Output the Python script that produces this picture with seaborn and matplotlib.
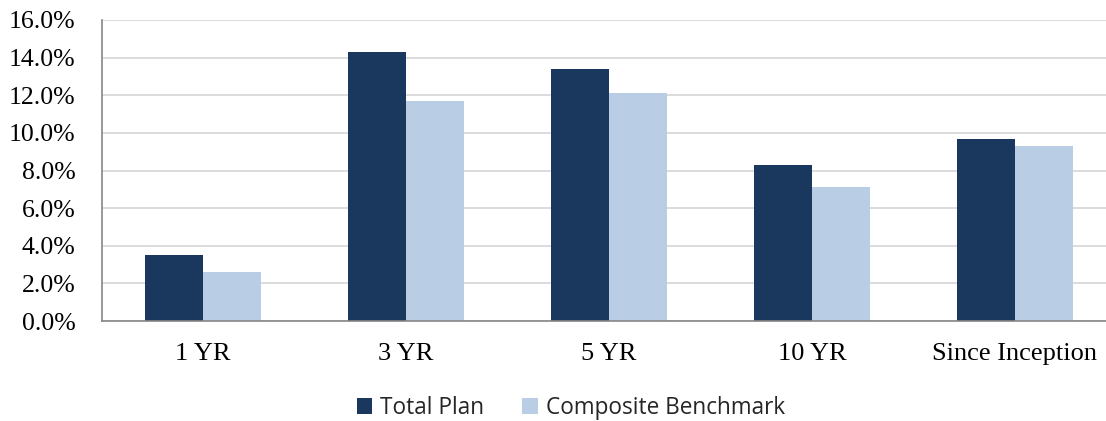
import matplotlib
matplotlib.use("Agg")
import matplotlib.pyplot as plt
import matplotlib.ticker as mticker
from matplotlib.patches import Patch
import seaborn as sns
import pandas as pd

periods = ["1 YR", "3 YR", "5 YR", "10 YR", "Since Inception"]
total_plan = [3.5, 14.3, 13.4, 8.3, 9.7]
composite_benchmark = [2.6, 11.7, 12.1, 7.1, 9.3]
series_names = ["Total Plan", "Composite Benchmark"]
colors = ["#1A375E", "#B9CDE5"]

df = pd.DataFrame({
    "Period": periods * 2,
    "Return": total_plan + composite_benchmark,
    "Series": [series_names[0]] * len(periods) + [series_names[1]] * len(periods),
})

sns.set_style("white")
fig = plt.figure(figsize=(11.06, 4.21), dpi=100)
ax = fig.add_axes([0.0919, 0.2375, 0.9173, 0.715])

sns.barplot(data=df, x="Period", y="Return", hue="Series", order=periods,
            hue_order=series_names, palette=colors, width=0.57, gap=0,
            saturation=1, legend=False, ax=ax)
for p in ax.patches:
    p.set_linewidth(0)

ax.set_ylim(0, 16)
ax.set_xlim(-0.5, len(periods) - 0.5)
ax.yaxis.set_major_locator(mticker.MultipleLocator(2))
ax.yaxis.set_major_formatter(mticker.FuncFormatter(lambda v, _: f"{v:.1f}%"))
ax.grid(axis="y", color="#D9D9D9", linewidth=1.3)
ax.set_axisbelow(True)

# category separator ticks on the x axis
ax.set_xticks(range(len(periods)))
ax.set_xticklabels(periods)
ax.set_xticks([i + 0.5 for i in range(-1, len(periods))], minor=True)
ax.tick_params(axis="x", which="major", length=0, pad=16)
ax.tick_params(axis="x", which="minor", length=7, width=1.2, color="#868686",
               direction="out")
ax.tick_params(axis="y", length=6, width=1.2, color="#868686", direction="out", pad=13)

for lab in ax.get_xticklabels():
    lab.set_fontfamily("Liberation Serif")
    lab.set_fontsize(19)
    lab.set_color("black")
for lab in ax.get_yticklabels():
    lab.set_fontfamily("Liberation Serif")
    lab.set_fontsize(18.5)
    lab.set_color("black")

for side in ["top", "right"]:
    ax.spines[side].set_visible(False)
for side in ["left", "bottom"]:
    ax.spines[side].set_color("#868686")
    ax.spines[side].set_linewidth(1.2)

ax.set_xlabel("")
ax.set_ylabel("")

handles = [Patch(facecolor=c, edgecolor="none") for c in colors]
fig.legend(handles, series_names, loc="center", bbox_to_anchor=(0.516, 0.031),
           ncol=2, frameon=False, prop={"family": "Open Sans", "size": 16.3},
           handlelength=0.7, handleheight=0.7, handletextpad=0.35,
           columnspacing=1.65)

fig.savefig("out.png", dpi=100)
